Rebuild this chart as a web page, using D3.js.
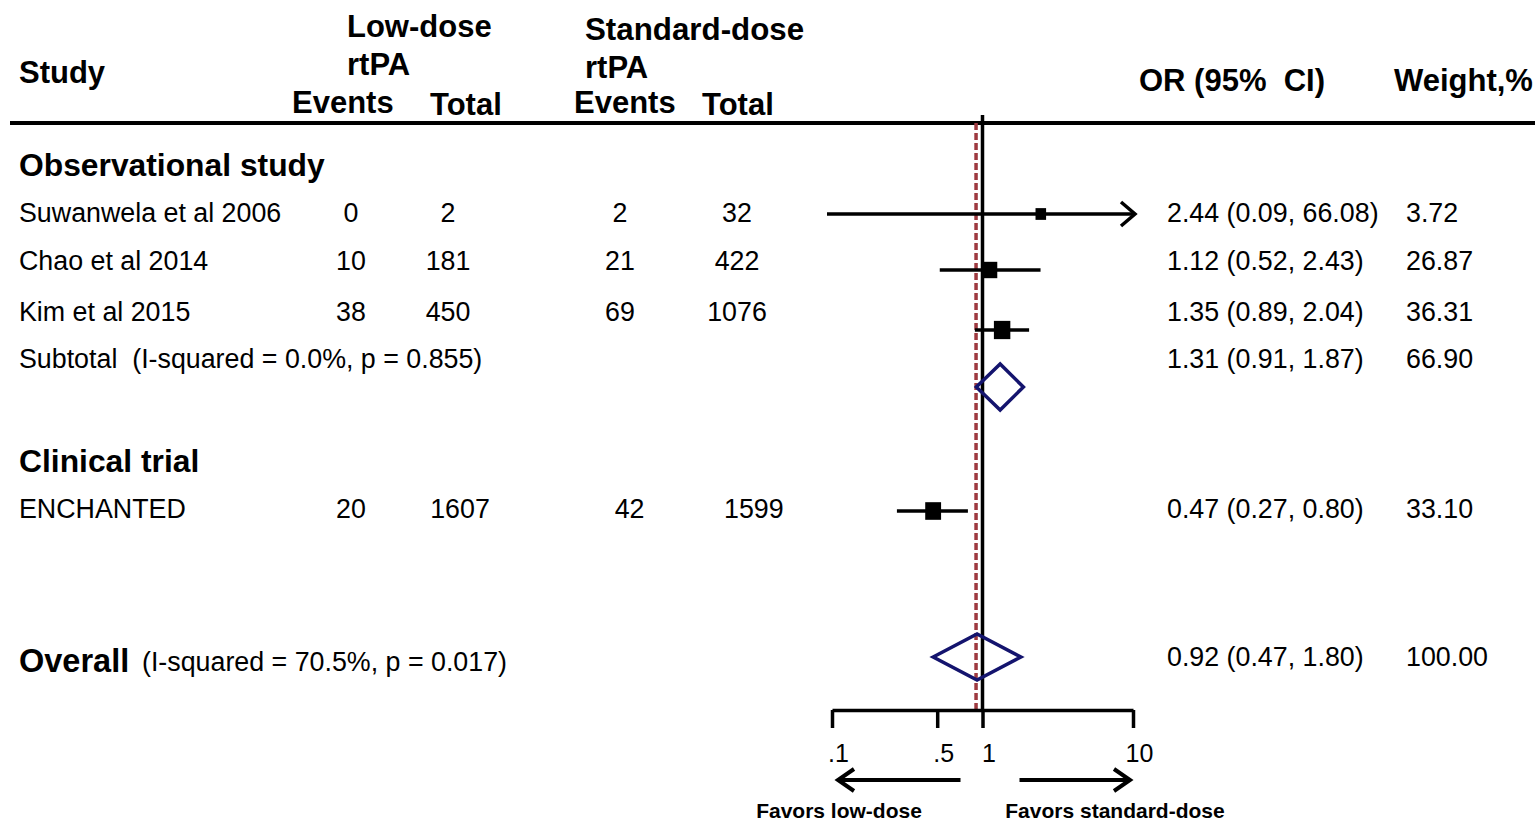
<!DOCTYPE html>
<html>
<head>
<meta charset="utf-8">
<script src="https://cdn.jsdelivr.net/npm/d3@7"></script>
<style>
  body { margin: 0; background: #fff; }
  svg { display: block; font-family: "Liberation Sans", Arial, sans-serif; }
</style>
</head>
<body>
<svg id="chart" width="1535" height="822"></svg>
<script>
// study level data
const studies = ["Suwanwela et al 2006", "Chao et al 2014", "Kim et al 2015", "ENCHANTED"];
const lowEvents = [0, 10, 38, 20];
const lowTotal = [2, 181, 450, 1607];
const stdEvents = [2, 21, 69, 42];
const stdTotal = [32, 422, 1076, 1599];
const oddsRatio = [2.44, 1.12, 1.35, 0.47];
const ciLow = [0.09, 0.52, 0.89, 0.27];
const ciHigh = [66.08, 2.43, 2.04, 0.80];
const weights = [3.72, 26.87, 36.31, 33.10];

// pooled estimates
const pooledLabels = ["Subtotal", "Overall"];
const pooledHet = ["(I-squared = 0.0%, p = 0.855)", "(I-squared = 70.5%, p = 0.017)"];
const pooledOR = [1.31, 0.92];
const pooledLow = [0.91, 0.47];
const pooledHigh = [1.87, 1.80];
const pooledWeight = [66.90, 100.00];

const groupLabels = ["Observational study", "Clinical trial"];
const tickValues = [0.1, 0.5, 1, 10];
const tickLabels = [".1", ".5", "1", "10"];

// layout
const studyTextY = [213, 261, 312, 509];
const studyMarkY = [214, 270, 330, 511];
const pooledTextY = [359, 661];
const pooledMarkY = [387, 657];
const groupY = [165, 461];
const axisY = 710;
const fs = 26.8;

const svg = d3.select("#chart");
const x = d3.scaleLog().domain([0.1, 10]).range([832, 1133]);
const boxSize = d3.scaleLinear().domain([0, 40]).range([11, 19]);
const f2 = d3.format(".2f");

function txt(str, xp, yc, size, bold, anchor) {
  return svg.append("text")
    .attr("x", xp)
    .attr("y", yc)
    .attr("dy", "0.35em")
    .attr("font-size", size)
    .attr("font-weight", bold ? "bold" : "normal")
    .attr("text-anchor", anchor || "start")
    .text(str);
}

// cabeçalho
txt("Study", 19, 72, 31, true);
txt("Low-dose", 347, 26, 31, true);
txt("rtPA", 347, 64, 31, true);
txt("Events", 292, 102, 31, true);
txt("Total", 430, 104, 31, true);
txt("Standard-dose", 585, 29, 31.3, true);
txt("rtPA", 585, 67, 31, true);
txt("Events", 574, 102, 31, true);
txt("Total", 702, 104, 31, true);
txt("OR (95%  CI)", 1139, 80, 31, true).style("white-space", "pre");
txt("Weight,%", 1394, 80, 31, true);

svg.append("line")
  .attr("x1", 10).attr("x2", 1535)
  .attr("y1", 123).attr("y2", 123)
  .attr("stroke", "#000").attr("stroke-width", 4);

groupLabels.forEach((g, i) => txt(g, 19, groupY[i], 31.8, true));

// linhas de referência
svg.append("line")
  .attr("x1", x(1)).attr("x2", x(1))
  .attr("y1", 115).attr("y2", axisY)
  .attr("stroke", "#000").attr("stroke-width", 3.5);

svg.append("line")
  .attr("x1", x(pooledOR[1]) - 1).attr("x2", x(pooledOR[1]) - 1)
  .attr("y1", 123).attr("y2", axisY)
  .attr("stroke", "#9e3a40").attr("stroke-width", 3.5)
  .attr("stroke-dasharray", "7,3");

// linhas dos estudos
const colX = [351, 448, 620, 737];
const colShift = [0, 0, 0, 12];
studies.forEach((s, i) => {
  const y = studyTextY[i];
  txt(s, 19, y, fs);
  txt(lowEvents[i], colX[0], y, fs, false, "middle");
  txt(lowTotal[i], colX[1] + colShift[i], y, fs, false, "middle");
  txt(stdEvents[i], colX[2] + colShift[i] * 0.8, y, fs, false, "middle");
  txt(stdTotal[i], colX[3] + colShift[i] * 1.4, y, fs, false, "middle");
  txt(`${f2(oddsRatio[i])} (${f2(ciLow[i])}, ${f2(ciHigh[i])})`, 1167, y, fs);
  txt(f2(weights[i]), 1406, y, fs);

  const my = studyMarkY[i];
  const lo = Math.max(ciLow[i], x.domain()[0]);
  const hi = Math.min(ciHigh[i], x.domain()[1]);
  svg.append("line")
    .attr("x1", x(lo) - (ciLow[i] < x.domain()[0] ? 5 : 0))
    .attr("x2", x(hi))
    .attr("y1", my).attr("y2", my)
    .attr("stroke", "#000").attr("stroke-width", 3.5);
  if (ciHigh[i] > x.domain()[1]) {
    const tip = x(hi) + 2;
    svg.append("path")
      .attr("d", `M${tip - 14},${my - 12}L${tip},${my}L${tip - 14},${my + 12}`)
      .attr("fill", "none").attr("stroke", "#000").attr("stroke-width", 3.5);
  }
  const b = boxSize(weights[i]);
  svg.append("rect")
    .attr("x", x(oddsRatio[i]) - b * 0.45)
    .attr("y", my - b / 2)
    .attr("width", b * 0.9)
    .attr("height", b)
    .attr("fill", "#000");
});

// estimativas combinadas
pooledLabels.forEach((p, i) => {
  const y = pooledTextY[i];
  if (i === 0) {
    txt(p + "  " + pooledHet[i], 19, y, fs).style("white-space", "pre");
  } else {
    txt(p, 19, y, 32.5, true);
    txt(pooledHet[i], 142, y + 1, fs);
  }
  txt(`${f2(pooledOR[i])} (${f2(pooledLow[i])}, ${f2(pooledHigh[i])})`, 1167, pooledTextY[i] - (i ? 4 : 0), fs);
  txt(f2(pooledWeight[i]), 1406, pooledTextY[i] - (i ? 4 : 0), fs);

  const my = pooledMarkY[i];
  const h = 23;
  svg.append("path")
    .attr("d", `M${x(pooledLow[i])},${my}L${x(pooledOR[i])},${my - h}L${x(pooledHigh[i])},${my}L${x(pooledOR[i])},${my + h}Z`)
    .attr("fill", "none")
    .attr("stroke", "#14146e")
    .attr("stroke-width", 3.5)
    .attr("stroke-linejoin", "miter");
});

// eixo
const axis = svg.append("g")
  .attr("transform", `translate(0, ${axisY})`)
  .call(d3.axisBottom(x)
    .tickValues(tickValues)
    .tickFormat((d, i) => tickLabels[i])
    .tickSize(18)
    .tickSizeOuter(0)
    .tickPadding(16));
axis.select(".domain").attr("stroke-width", 3.5);
axis.selectAll(".tick line").attr("stroke-width", 3.5);
axis.selectAll(".tick text")
  .attr("font-size", 25)
  .attr("font-family", "Liberation Sans, Arial, sans-serif")
  .attr("dx", 6);

// setas de direção
const ay = 780;
const arrows = [
  { from: x(1) - 22, to: x(0.1) + 6, dir: -1, label: "Favors low-dose", lx: x(0.1) + 7 },
  { from: x(1) + 37, to: x(10) - 3, dir: 1, label: "Favors standard-dose", lx: x(10) - 18 }
];
arrows.forEach((a) => {
  svg.append("line")
    .attr("x1", a.from).attr("x2", a.to)
    .attr("y1", ay).attr("y2", ay)
    .attr("stroke", "#000").attr("stroke-width", 4);
  svg.append("path")
    .attr("d", `M${a.to - a.dir * 16},${ay - 11}L${a.to},${ay}L${a.to - a.dir * 16},${ay + 11}`)
    .attr("fill", "none").attr("stroke", "#000").attr("stroke-width", 4);
  txt(a.label, a.lx, 811, 21, true, "middle");
});
</script>
</body>
</html>
